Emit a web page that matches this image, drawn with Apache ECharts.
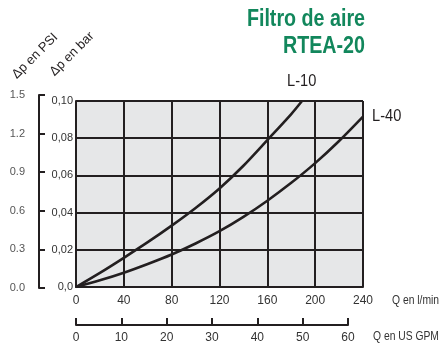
<!DOCTYPE html>
<html>
<head>
<meta charset="utf-8">
<script src="https://cdn.jsdelivr.net/npm/echarts@6/dist/echarts.min.js"></script>
<style>
  html, body { margin: 0; padding: 0; background: #fff; }
  #chart { width: 445px; height: 349px; }
</style>
</head>
<body>
<div id="chart"></div>
<script>
    // caudal l/min -> Δp bar
    var flowL10 = [0, 20, 40, 60, 80, 100, 120, 140, 160, 180, 189]
    var dpL10 = [0, 0.0076, 0.0157, 0.0241, 0.033, 0.0425, 0.053, 0.0652, 0.079, 0.093, 0.10]
    var flowL40 = [0, 20, 40, 60, 80, 100, 120, 140, 160, 180, 200, 220, 240]
    var dpL40 = [0, 0.0036, 0.0077, 0.0124, 0.0175, 0.0234, 0.030, 0.0377, 0.0464, 0.056, 0.0666, 0.0785, 0.0916]
    var psiTicks = [0, 0.3, 0.6, 0.9, 1.2, 1.5]
    var gpmTicks = [0, 10, 20, 30, 40, 50, 60]

    var font = '"Liberation Sans", Arial, sans-serif'
    var ink = '#231f20'
    var narrow = 0.86   // fake condensed face

    function pairs(xs, ys) {
        var out = []
        for (var i = 0; i < xs.length; i++) {
            out.push([xs[i], ys[i]])
        }
        return out
    }

    function label(text, x, y, size, opts) {
        opts = opts || {}
        return {
            type: 'text', x: x, y: y, scaleX: opts.scale || narrow, rotation: opts.rotation || 0,
            style: {
                text: text, fill: opts.color || ink,
                font: (opts.weight || 'normal') + ' ' + size + 'px ' + font,
                align: opts.align || 'left', verticalAlign: opts.valign || 'top'
            }
        }
    }

    var chart = echarts.init(document.getElementById('chart'), null, { renderer: 'canvas' })

    var option = {
        animation: false,
        textStyle: { fontFamily: font },
        grid: [
            // main plot
            { left: 76, right: 82, top: 101, bottom: 62, show: true, backgroundColor: '#e6e7e8', borderWidth: 0 },
            // PSI scale
            { left: 39, width: 1, top: 95, bottom: 61 },
            // US GPM scale
            { left: 76, width: 272, top: 300, height: 25 }
        ],
        xAxis: [
            {
                gridIndex: 0, type: 'value', min: 0, max: 240, interval: 40,
                axisLine: { show: true, onZero: false, lineStyle: { color: ink, width: 2 } },
                axisTick: { show: false },
                splitLine: { show: true, lineStyle: { color: ink, width: 2 } },
                axisLabel: { color: '#333', fontSize: 12, margin: 8, fontFamily: font }
            },
            {
                gridIndex: 1, type: 'value', show: false
            },
            {
                gridIndex: 2, type: 'value', min: 0, max: 60, interval: 10,
                axisLine: { show: true, lineStyle: { color: ink, width: 2 } },
                axisTick: { show: true, inside: true, length: 7, lineStyle: { color: ink, width: 2 } },
                splitLine: { show: false },
                axisLabel: { color: '#333', fontSize: 12, margin: 7, fontFamily: font }
            }
        ],
        yAxis: [
            {
                gridIndex: 0, type: 'value', min: 0, max: 0.1, interval: 0.02,
                axisLine: { show: true, lineStyle: { color: ink, width: 2 } },
                axisTick: { show: false },
                splitLine: { show: true, lineStyle: { color: ink, width: 2 } },
                axisLabel: {
                    color: '#333', fontSize: 11, margin: 3, fontFamily: font,
                    formatter: function (v) {
                        return v === 0 ? '0,0' : v.toFixed(2).replace('.', ',')
                    }
                }
            },
            {
                gridIndex: 1, type: 'value', min: 0, max: 1.5, interval: 0.3,
                axisLine: { show: true, lineStyle: { color: ink, width: 2 } },
                axisTick: { show: true, inside: true, length: 6, lineStyle: { color: ink, width: 2 } },
                splitLine: { show: false },
                axisLabel: {
                    color: '#555', fontSize: 11, margin: 14, fontFamily: font,
                    formatter: function (v) { return v.toFixed(1) }
                }
            },
            {
                gridIndex: 2, type: 'value', show: false, min: 0, max: 1
            }
        ],
        series: [
            {
                name: 'L-10', type: 'line', xAxisIndex: 0, yAxisIndex: 0,
                data: pairs(flowL10, dpL10), smooth: 0.3, showSymbol: false,
                lineStyle: { color: ink, width: 2.6 }, z: 5
            },
            {
                name: 'L-40', type: 'line', xAxisIndex: 0, yAxisIndex: 0,
                data: pairs(flowL40, dpL40), smooth: 0.3, showSymbol: false,
                lineStyle: { color: ink, width: 2.6 }, z: 5
            }
        ],
        graphic: [
            label('Filtro de aire', 365, 7, 24, { align: 'right', weight: 'bold', color: '#12875c', scale: 0.82 }),
            label('RTEA-20', 365, 34, 24, { align: 'right', weight: 'bold', color: '#12875c', scale: 0.82 }),
            label('L-10', 287, 73, 17),
            label('L-40', 372, 108, 17),
            label('Q en l/min', 392, 295, 12, { color: '#333' }),
            label('Q en US GPM', 373, 331, 12, { color: '#333' }),
            label('Δp en PSI', 35, 56, 13, { rotation: Math.PI / 4, align: 'center', valign: 'middle', scale: 1 }),
            label('Δp en bar', 72, 54, 13, { rotation: Math.PI / 4, align: 'center', valign: 'middle', scale: 1 })
        ]
    }

    chart.setOption(option)
</script>
</body>
</html>
